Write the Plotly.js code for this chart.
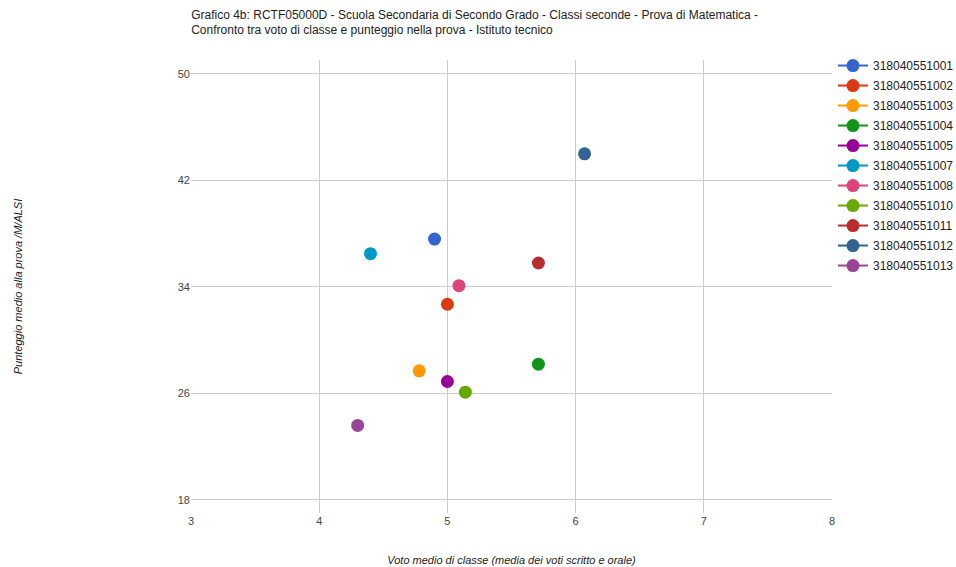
<!DOCTYPE html>
<html>
<head>
<meta charset="utf-8">
<script src="https://cdn.plot.ly/plotly-3.0.1.min.js"></script>
<style>html,body{margin:0;padding:0;background:#fff;}#chart{width:956px;height:567px;}</style>
</head>
<body>
<div id="chart"></div>
<script>
const classNames = ["318040551001","318040551002","318040551003","318040551004","318040551005","318040551007","318040551008","318040551010","318040551011","318040551012","318040551013"];
const votoMedio = [4.90, 5.00, 4.78, 5.71, 5.00, 4.40, 5.09, 5.14, 5.71, 6.07, 4.30];
const punteggio = [37.6, 32.7, 27.7, 28.2, 26.9, 36.5, 34.1, 26.1, 35.8, 44.0, 23.6];
const colors = ["#3366cc","#dc3912","#ff9900","#109618","#990099","#0099c6","#dd4477","#66aa00","#b82e2e","#316395","#994499"];
const xTicks = [3,4,5,6,7,8];
const yTicks = [18,26,34,42,50];

const traces = classNames.map((n, i) => ({
  type: "scatter",
  mode: "lines+markers",
  name: n,
  legendgroup: "g" + i,
  x: [votoMedio[i]],
  y: [punteggio[i]],
  marker: {color: colors[i], size: 13},
  line: {color: colors[i], width: 2},
  hoverinfo: "x+y+name"
}));

const layout = {
  width: 956, height: 567,
  margin: {l: 191, r: 124, t: 60, b: 54},
  paper_bgcolor: "#fff", plot_bgcolor: "#fff",
  font: {family: "'Liberation Sans', Arial, sans-serif", size: 11, color: "#444"},
  title: {
    text: "Grafico 4b: RCTF05000D - Scuola Secondaria di Secondo Grado - Classi seconde - Prova di Matematica -<br>Confronto tra voto di classe e punteggio nella prova - Istituto tecnico",
    x: 0.2, xref: "container", xanchor: "left", y: 0.967, yref: "container", yanchor: "middle",
    font: {size: 12, color: "#222"}
  },
  xaxis: {
    range: [3, 8], tickvals: xTicks, ticktext: xTicks.map(String),
    showgrid: true, gridcolor: "#cccccc", gridwidth: 1, zeroline: false,
    showline: false, ticks: "", tickfont: {size: 11, color: "#444"},
    title: {text: "Voto medio di classe (media dei voti scritto e orale)", font: {size: 11, color: "#222", style: "italic"}, standoff: 30}
  },
  yaxis: {
    range: [17.02, 51.05], tickvals: yTicks, ticktext: yTicks.map(String),
    showgrid: true, gridcolor: "#cccccc", gridwidth: 1, zeroline: false,
    showline: false, ticks: "", tickfont: {size: 11, color: "#444"},
    title: {text: "Punteggio medio alla prova /M/ALSI", font: {size: 11, color: "#222", style: "italic"}, standoff: 152}
  },
  legend: {
    xref: "container", yref: "container",
    x: 0.8713, xanchor: "left", y: 0.91, yanchor: "top",
    font: {size: 12, color: "#222"}, tracegroupgap: 1,
    bgcolor: "rgba(0,0,0,0)"
  },
  showlegend: true
};

Plotly.newPlot("chart", traces, layout, {displayModeBar: false, staticPlot: true});
</script>
</body>
</html>
